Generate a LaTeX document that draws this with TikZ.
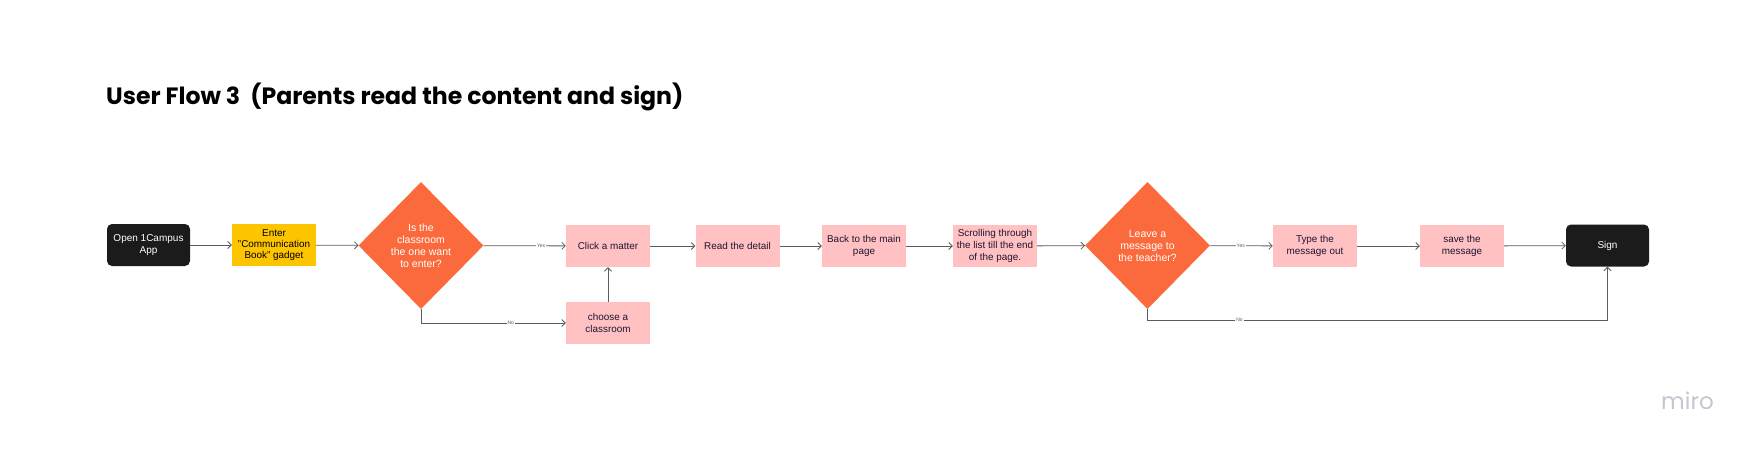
\documentclass[tikz,border=0pt]{standalone}
\usepackage{fontspec}
\setmainfont{Liberation Sans}
\newfontfamily\poppins{Poppins}
\usetikzlibrary{shapes.geometric,arrows.meta}
\definecolor{nodeblack}{HTML}{1B1B1B}
\definecolor{miroyellow}{HTML}{FDC500}
\definecolor{miroorange}{HTML}{FA6A3C}
\definecolor{miropink}{HTML}{FFC1C1}
\definecolor{pinktext}{HTML}{1E1533}
\definecolor{edgegray}{HTML}{5C5C5C}
\definecolor{logogray}{HTML}{C5C6D0}
\tikzset{
  termbox/.style={draw=none, fill=nodeblack, rounded corners=5pt, minimum width=83pt, minimum height=42pt, text=white, align=center, inner sep=1pt, font=\fontsize{10}{11.5}\selectfont},
  yellowbox/.style={draw=none, fill=miroyellow, minimum width=84pt, minimum height=42pt, text=black, align=center, inner sep=1pt, font=\fontsize{9.9}{11}\selectfont},
  pinkbox/.style={draw=none, fill=miropink, minimum width=84pt, minimum height=42pt, text=pinktext, align=center, inner sep=1pt, font=\fontsize{9.9}{11.6}\selectfont},
  decision/.style={diamond, draw=none, fill=miroorange, minimum width=125pt, minimum height=127pt, inner sep=0pt, text=white, align=center, font=\fontsize{10.5}{12}\selectfont},
  flow/.style={draw=edgegray, line width=0.8pt, -{Straight Barb[length=3.5pt,width=7pt]}},
  edgelabel/.style={fill=white, inner sep=1pt, text=edgegray, font=\fontsize{5}{6}\selectfont}
}
\begin{document}
\begin{tikzpicture}[x=1pt,y=-1pt]
\useasboundingbox[fill=white] (0,0) rectangle (1758,448);
\node[anchor=base west, font=\poppins\bfseries\fontsize{23.6}{28}\selectfont, text=black, inner sep=0pt] (title) at (106,104.3) {User Flow 3\ \ (Parents read the content and sign)};
\node[termbox] (open) at (148.5,245) {Open 1Campus\\App};
\node[yellowbox] (enter) at (274,245) {Enter\\"Communication\\Book" gadget};
\node[decision] (d1) at (421,245.5) {Is the\\classroom\\the one want\\to enter?};
\node[pinkbox] (click) at (608,246) {Click a matter};
\node[pinkbox] (choose) at (608,323) {choose a\\classroom};
\node[pinkbox] (read) at (737.5,246) {Read the detail};
\node[pinkbox] (back) at (864,246) {Back to the main\\page};
\node[pinkbox] (scroll) at (995,246) {Scrolling through\\the list till the end\\of the page.};
\node[decision] (d2) at (1147.5,245.5) {Leave a\\message to\\the teacher?};
\node[pinkbox] (type) at (1315,246) {Type the\\message out};
\node[pinkbox] (save) at (1462,246) {save the\\message};
\node[termbox] (sign) at (1607.5,245.5) {Sign};
\coordinate (n2a) at (1147.5,320);
\coordinate (n2b) at (1607.5,320);
\draw[flow] (open) -- (enter);
\draw[flow] (enter) -- (d1);
\draw[flow] (d1) -- node[edgelabel, pos=0.7] {Yes} (click);
\draw[flow] (d1.south) |- node[edgelabel, pos=0.81] {No} (choose.west);
\draw[flow] (choose) -- (click);
\draw[flow] (click) -- (read);
\draw[flow] (read) -- (back);
\draw[flow] (back) -- (scroll);
\draw[flow] (scroll) -- (d2);
\draw[flow] (d2) -- node[edgelabel, pos=0.49] {Yes} (type);
\draw[flow] (type) -- (save);
\draw[flow] (save) -- (sign);
\draw[flow] (d2.south) -- (n2a) -- node[edgelabel, pos=0.2] {No} (n2b) -- (sign.south);
\node[anchor=base east, font=\poppins\fontsize{23}{26}\selectfont, text=logogray, inner sep=0pt] (logo) at (1714,409) {miro};
\end{tikzpicture}
\end{document}
